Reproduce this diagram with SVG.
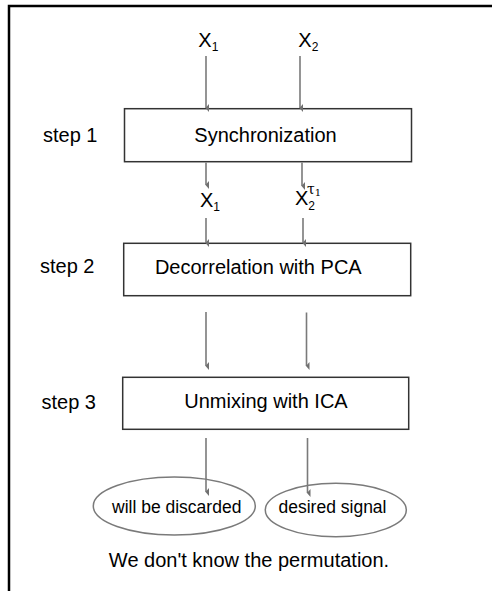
<svg xmlns="http://www.w3.org/2000/svg" width="492" height="591" viewBox="0 0 492 591">
<defs>
<marker id="ah" markerUnits="userSpaceOnUse" markerWidth="8" markerHeight="6" refX="4" refY="4.5" orient="auto" viewBox="0 0 8 6">
<path d="M0,1.5 L8,1.5 L4,5 Z" fill="#707070"/>
</marker>
</defs>
<style>
text{font-family:"Liberation Sans",Arial,sans-serif;fill:#000}
.big{font-size:20px}
.sm{font-size:17.5px}
.sub{font-size:12px}
.box{fill:#fff;stroke:#333;stroke-width:1.5}
.ell{fill:#fff;stroke:#7a7a7a;stroke-width:1.5}
.arr{stroke:#7a7a7a;stroke-width:1.6;fill:none}
</style>
<rect width="492" height="591" fill="#fff"/>
<path d="M9,600 L9,6 L500,6" fill="none" stroke="#000" stroke-width="2.5"/>

<g id="labels">
<text class="big" x="43" y="142">step 1</text>
<text class="big" x="40" y="273">step 2</text>
<text class="big" x="41.5" y="409">step 3</text>
</g>

<g id="input-x1"><text class="big" x="198.3" y="46.7">X<tspan class="sub" dy="4.5">1</tspan></text></g>
<g id="input-x2"><text class="big" x="298.3" y="46.7">X<tspan class="sub" dy="4.5">2</tspan></text></g>

<g id="sync">
<rect class="box" x="124.5" y="108.7" width="287" height="53"/>
<text class="big" x="265.5" y="141.7" text-anchor="middle">Synchronization</text>
</g>

<g id="mid-x1"><text class="big" x="200" y="206.5">X<tspan class="sub" dy="4.5">1</tspan></text></g>
<g id="mid-x2"><text class="big" x="295" y="205">X<tspan class="sub" dy="5">2</tspan></text>
<text x="307" y="194" style="font-family:'DejaVu Serif','Liberation Serif',serif;font-size:14px">τ<tspan dy="1.5" style="font-size:10px">1</tspan></text>
</g>

<g id="pca">
<rect class="box" x="123.7" y="243.3" width="287" height="52.4"/>
<text class="big" x="258.3" y="274" text-anchor="middle">Decorrelation with PCA</text>
</g>

<g id="ica">
<rect class="box" x="122.7" y="377.3" width="286" height="52"/>
<text class="big" x="266" y="408.3" text-anchor="middle">Unmixing with ICA</text>
</g>

<g id="discarded">
<ellipse class="ell" cx="174.3" cy="506" rx="81" ry="29"/>
<text class="sm" x="176.7" y="513.3" text-anchor="middle">will be discarded</text>
</g>
<g id="desired">
<ellipse class="ell" cx="335.8" cy="510" rx="70.5" ry="26.7"/>
<text class="sm" x="332.5" y="513.3" text-anchor="middle">desired signal</text>
</g>

<g id="note"><text class="big" x="249" y="566.7" text-anchor="middle">We don't know the permutation.</text></g>

<g id="connectors">
<line class="arr" x1="206" y1="56" x2="206" y2="108" marker-end="url(#ah)"/>
<line class="arr" x1="300" y1="56" x2="300" y2="108" marker-end="url(#ah)"/>
<line class="arr" x1="206" y1="162.5" x2="206" y2="185" marker-end="url(#ah)"/>
<line class="arr" x1="302" y1="162.5" x2="302" y2="186" marker-end="url(#ah)"/>
<line class="arr" x1="206" y1="218" x2="206" y2="243" marker-end="url(#ah)"/>
<line class="arr" x1="303" y1="218" x2="303" y2="243" marker-end="url(#ah)"/>
<line class="arr" x1="206" y1="312" x2="206" y2="366" marker-end="url(#ah)"/>
<line class="arr" x1="306.5" y1="312.5" x2="306.5" y2="366" marker-end="url(#ah)"/>
<line class="arr" x1="206" y1="438" x2="206" y2="492" marker-end="url(#ah)"/>
<line class="arr" x1="307.5" y1="438" x2="307.5" y2="493" marker-end="url(#ah)"/>
</g>
</svg>
